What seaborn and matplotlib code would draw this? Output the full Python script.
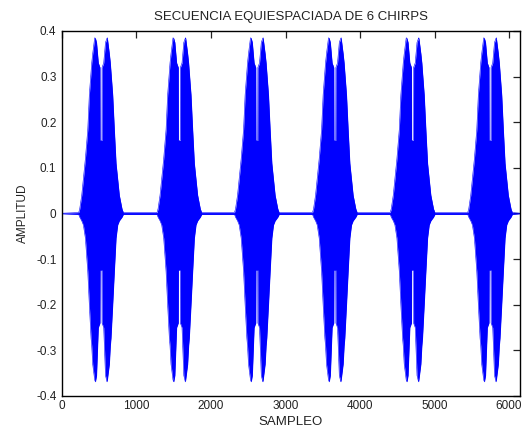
import numpy as np
import pandas as pd
import matplotlib
matplotlib.use("Agg")
import matplotlib.pyplot as plt
import seaborn as sns

# ---- data ----
title = "SECUENCIA EQUIESPACIADA DE 6 CHIRPS"
x_label = "SAMPLEO"
y_label = "AMPLITUD"
n_samples = 6144
chirp_centers = [524, 1575, 2615, 3662, 4705, 5745]
# envelope of one chirp: offset (samples) from its centre, upper and lower amplitude
env_offset = [-300, -286, -259, -237, -210, -178, -157, -134, -125, -112, -85, -75, -60,
              -36, -14, -12, 12, 14, 36, 60, 80, 85, 112, 125, 134, 157, 179, 202,
              224, 246, 282, 300]
env_upper = [0.002, 0.01, 0.04, 0.075, 0.12, 0.184, 0.26, 0.31, 0.33, 0.35, 0.385, 0.384, 0.375,
             0.33, 0.32, 0.16, 0.16, 0.32, 0.33, 0.375, 0.384, 0.385, 0.35, 0.33, 0.31, 0.26, 0.184, 0.11,
             0.075, 0.04, 0.01, 0.002]
env_lower = [-0.002, -0.008, -0.016, -0.025, -0.054, -0.127, -0.2, -0.273, -0.29, -0.33, -0.365, -0.369, -0.355,
             -0.25, -0.24, -0.124, -0.124, -0.24, -0.25, -0.355, -0.369, -0.365, -0.33, -0.29, -0.273, -0.2, -0.127, -0.054,
             -0.025, -0.016, -0.008, -0.002]
baseline = 0.0006
x_ticks = [0, 1000, 2000, 3000, 4000, 5000, 6000]
y_ticks = [-0.4, -0.3, -0.2, -0.1, 0, 0.1, 0.2, 0.3, 0.4]
y_tick_labels = ["-0.4", "-0.3", "-0.2", "-0.1", "0", "0.1", "0.2", "0.3", "0.4"]

# ---- assemble the envelope series ----
xs, up, lo = [0], [baseline], [-baseline]
for c in chirp_centers:
    for o, u, l in zip(env_offset, env_upper, env_lower):
        xs.append(c + o); up.append(u); lo.append(l)
xs.append(n_samples); up.append(baseline); lo.append(-baseline)
df = pd.DataFrame({"sample": xs, "upper": up, "lower": lo})

sns.set_style("white")
plt.rcParams["font.family"] = ["Liberation Sans", "DejaVu Sans"]

fig = plt.figure(figsize=(5.32, 4.34), dpi=100)
ax = fig.add_axes([0.1165, 0.0876, 0.8605, 0.841])

blue = "#0000ff"
ax.fill_between(df["sample"], df["lower"], df["upper"], color=blue, lw=0)
sns.lineplot(data=df, x="sample", y="upper", ax=ax, color=blue, lw=0.4,
             estimator=None, sort=False)
sns.lineplot(data=df, x="sample", y="lower", ax=ax, color=blue, lw=0.4,
             estimator=None, sort=False)

ax.set_xlim(0, n_samples)
ax.set_ylim(-0.4, 0.4)
ax.set_xticks(x_ticks)
ax.set_xticklabels([str(t) for t in x_ticks])
ax.set_yticks(y_ticks)
ax.set_yticklabels(y_tick_labels)
ax.tick_params(direction="in", length=5, width=0.9, labelsize=8.5, colors="#222222",
               top=True, right=True, pad=3)
ax.tick_params(axis="y", pad=4)
for s in ax.spines.values():
    s.set_visible(True)
    s.set_color("black")
    s.set_linewidth(1.0)

ax.set_title(title, fontsize=9.5, pad=8, color="#222222")
ax.set_xlabel(x_label, fontsize=9.5, labelpad=3, color="#222222")
ax.set_ylabel(y_label, fontsize=8.5, labelpad=5, color="#222222")

fig.savefig("out.png", dpi=100, facecolor="white")
